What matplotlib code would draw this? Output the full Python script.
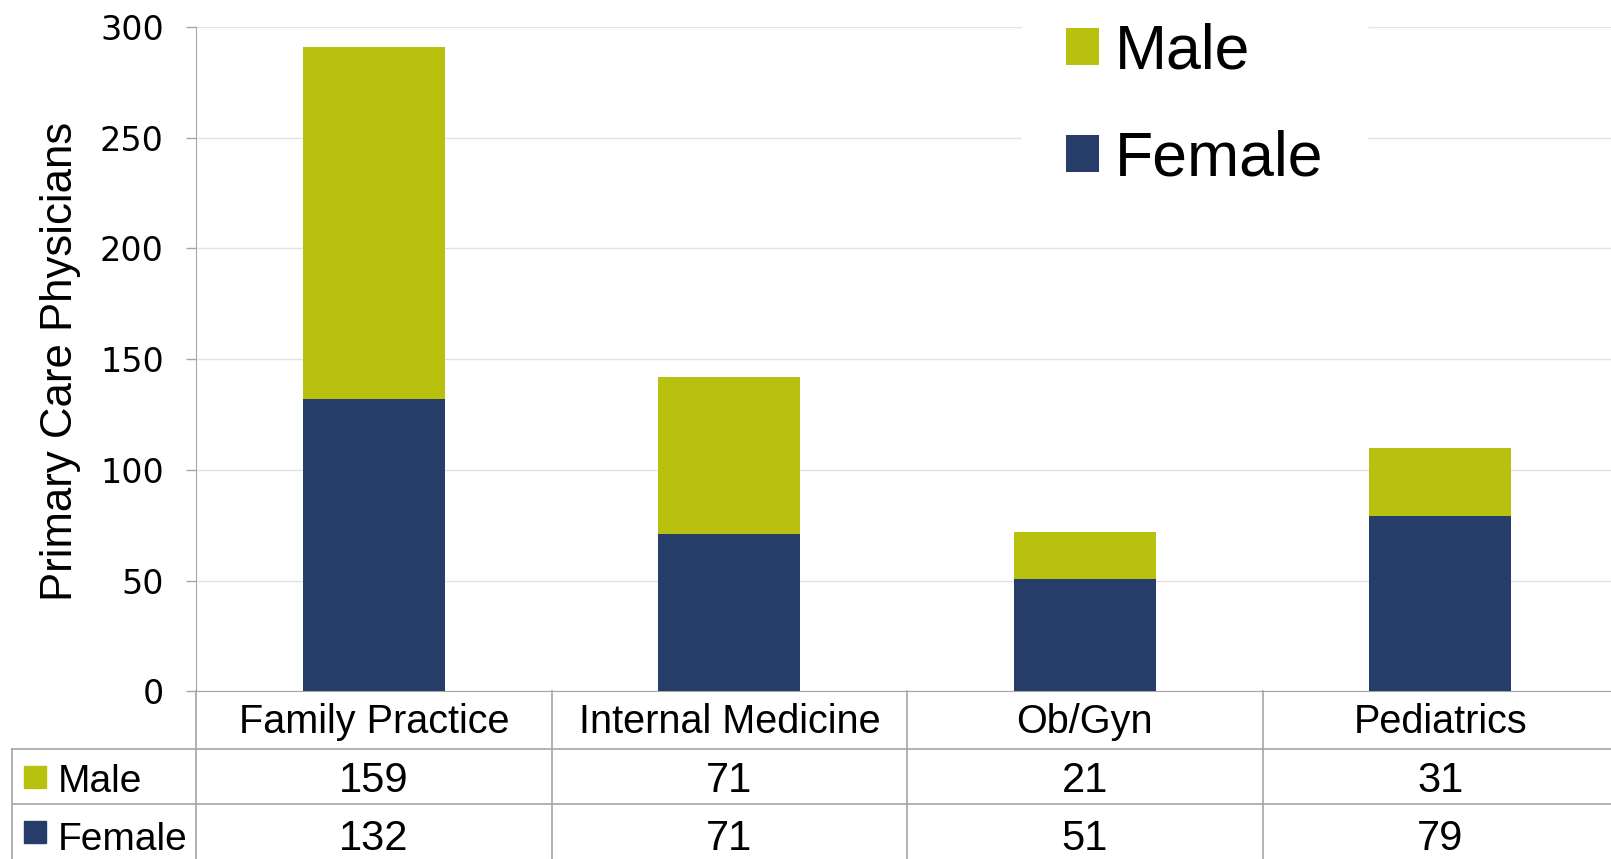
import matplotlib
matplotlib.use('Agg')
import matplotlib.pyplot as plt
import matplotlib.transforms as mtransforms
from matplotlib.patches import Rectangle

plt.rcParams['font.family'] = ['Liberation Sans', 'DejaVu Sans']

# data
categories = ['Family Practice', 'Internal Medicine', 'Ob/Gyn', 'Pediatrics']
male = [159, 71, 21, 31]
female = [132, 71, 51, 79]
yticks = [0, 50, 100, 150, 200, 250, 300]

male_color = '#B8C10E'
female_color = '#263D69'
line_color = '#A6A6A6'

fig = plt.figure(figsize=(16.11, 8.59), dpi=100)
ax = fig.add_axes([0.1217, 0.195, 0.8827, 0.7737])

x = list(range(len(categories)))
female_bars = ax.bar(x, female, width=0.4, color=female_color, label='Female', zorder=3)
male_bars = ax.bar(x, male, width=0.4, bottom=female, color=male_color, label='Male', zorder=3)

ax.set_xlim(-0.5, len(categories) - 0.5)
ax.set_ylim(0, 300)
ax.set_yticks(yticks)
ax.set_xticks([])
ax.yaxis.grid(True, color='#E3E3E3', lw=1)
ax.set_axisbelow(True)
ax.tick_params(axis='y', length=7.2, width=1, color=line_color, pad=16, labelsize=24)
for lbl in ax.get_yticklabels():
    lbl.set_fontfamily('DejaVu Sans')
for s in ['top', 'right']:
    ax.spines[s].set_visible(False)
for s in ['left', 'bottom']:
    ax.spines[s].set_color(line_color)

ax.set_ylabel('Primary Care Physicians', fontsize=31.5)
ax.yaxis.set_label_coords(-0.0811, 0.4962)

# data table under the plot (x in data units, y in axes fraction)
trans = mtransforms.blended_transform_factory(ax.transData, ax.transAxes)
row1, row2, tbl_bottom = -0.0865, -0.170, -0.27
left_edge = -1.0176
lkw = dict(color=line_color, lw=1.2, transform=trans, clip_on=False)
for b in [i - 0.5 for i in range(len(categories) + 1)]:
    ax.plot([b, b], [0, tbl_bottom], **lkw)
ax.plot([left_edge, left_edge], [row1, tbl_bottom], **lkw)
for r in [row1, row2]:
    ax.plot([left_edge, len(categories)], [r, r], **lkw)

for i, cat in enumerate(categories):
    ax.text(i, -0.0624, cat, transform=trans, ha='center', va='baseline', fontsize=28.5)
    ax.text(i, -0.1508, str(male[i]), transform=trans, ha='center', va='baseline', fontsize=30)
    ax.text(i, -0.2386, str(female[i]), transform=trans, ha='center', va='baseline', fontsize=30)

for name, col, yb, yc in [('Male', male_color, -0.1508, -0.1286), ('Female', female_color, -0.2386, -0.2114)]:
    ax.add_patch(Rectangle((-0.9838, yc - 0.0166), 0.0619, 0.0331, color=col,
                           transform=trans, clip_on=False))
    ax.text(-0.8899, yb, name, transform=trans, ha='left', va='baseline', fontsize=28)

leg = ax.legend(handles=[male_bars, female_bars], labels=['Male', 'Female'],
                loc='upper left', bbox_to_anchor=(1022 / 1611, 1 + 21 / 859),
                bbox_transform=fig.transFigure, borderaxespad=0, borderpad=0.7,
                fontsize=45, handlelength=0.53, handleheight=0.53, handletextpad=0.25,
                labelspacing=0.76, frameon=True, fancybox=False, framealpha=1,
                edgecolor='white', facecolor='white')
leg.set_zorder(5)

fig.savefig('out.png', dpi=100)
